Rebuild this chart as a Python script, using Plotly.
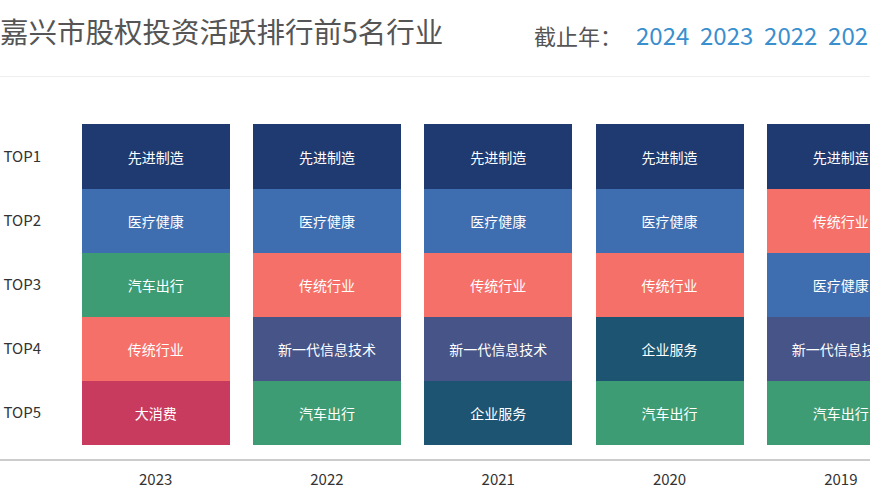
import plotly.graph_objs as go

# data
years = ['2023', '2022', '2021', '2020', '2019']
ranks = ['TOP1', 'TOP2', 'TOP3', 'TOP4', 'TOP5']
top1 = ['先进制造', '先进制造', '先进制造', '先进制造', '先进制造']
top2 = ['医疗健康', '医疗健康', '医疗健康', '医疗健康', '传统行业']
top3 = ['汽车出行', '传统行业', '传统行业', '传统行业', '医疗健康']
top4 = ['传统行业', '新一代信息技术', '新一代信息技术', '企业服务', '新一代信息技术']
top5 = ['大消费', '汽车出行', '企业服务', '汽车出行', '汽车出行']
filter_years = ['2024', '2023', '2022', '2021', '2020']

colors = {
    '先进制造': '#1f3a70',
    '医疗健康': '#3e6db0',
    '汽车出行': '#3d9c74',
    '传统行业': '#f6706a',
    '大消费': '#c93b5e',
    '新一代信息技术': '#465488',
    '企业服务': '#1d5472',
}

W, H = 870, 492
left, top, bottom = 70, 101.5, 31.7
plot_w = W - left
plot_h = H - top - bottom

fig = go.Figure()
# stack from bottom (TOP5) to top (TOP1)
for name, row in zip(ranks[::-1], [top5, top4, top3, top2, top1]):
    fig.add_trace(go.Bar(
        x=years, y=[1] * len(years), name=name,
        text=row, textposition='inside', insidetextanchor='middle',
        textangle=0, constraintext='none',
        textfont=dict(color='white', size=14),
        marker=dict(color=[colors[r] for r in row], line=dict(width=0)),
        hoverinfo='skip', showlegend=False))

font = "'Microsoft YaHei', 'Noto Sans CJK SC', sans-serif"

fig.update_layout(
    width=W, height=H, barmode='stack', bargap=0.136,
    margin=dict(l=left, r=0, t=top, b=bottom),
    plot_bgcolor='white', paper_bgcolor='white',
    font=dict(family=font, color='#333'),
    xaxis=dict(type='category', range=[-0.5, -0.5 + plot_w / 171.3],
               showgrid=False, showline=False, zeroline=False,
               tickfont=dict(size=15, color='#333'), ticks='outside',
               ticklen=6, tickcolor='rgba(0,0,0,0)', fixedrange=True),
    yaxis=dict(range=[-0.23, 5.35], tickvals=[4.5, 3.5, 2.5, 1.5, 0.5],
               ticktext=ranks, showgrid=False, zeroline=False,
               showline=False, ticks='outside', ticklen=25,
               tickcolor='rgba(0,0,0,0)',
               tickfont=dict(size=15, color='#333'), fixedrange=True),
)

px = lambda v: v / plot_w  # pixel offset -> paper x
py = lambda v: (H - bottom - v) / plot_h  # pixel y -> paper y

# title and year filter
fig.add_annotation(text='嘉兴市股权投资活跃排行前5名行业', xref='paper', yref='paper',
                   x=px(-2 - left), y=py(30), xanchor='left', yanchor='middle',
                   showarrow=False, font=dict(size=28.5, color='#555'))
fig.add_annotation(text='截止年：', xref='paper', yref='paper',
                   x=px(532 - left), y=py(34), xanchor='left', yanchor='middle',
                   showarrow=False, font=dict(size=22, color='#555'))
fig.add_annotation(text='  '.join(filter_years), xref='paper', yref='paper',
                   x=px(634 - left), y=py(34), xanchor='left', yanchor='middle',
                   showarrow=False, font=dict(size=24, color='#3a8fcf'))

# separator under header and bottom axis line
fig.add_shape(type='line', xref='paper', yref='paper', x0=px(-left), x1=1,
              y0=py(76), y1=py(76), line=dict(color='#eeeeee', width=1))
fig.add_shape(type='line', xref='paper', yref='paper', x0=px(-left), x1=1,
              y0=0, y1=0, line=dict(color='#cccccc', width=2))

fig.write_html("out.html", config={'displayModeBar': False},
               post_script="document.body.style.margin='0';")
